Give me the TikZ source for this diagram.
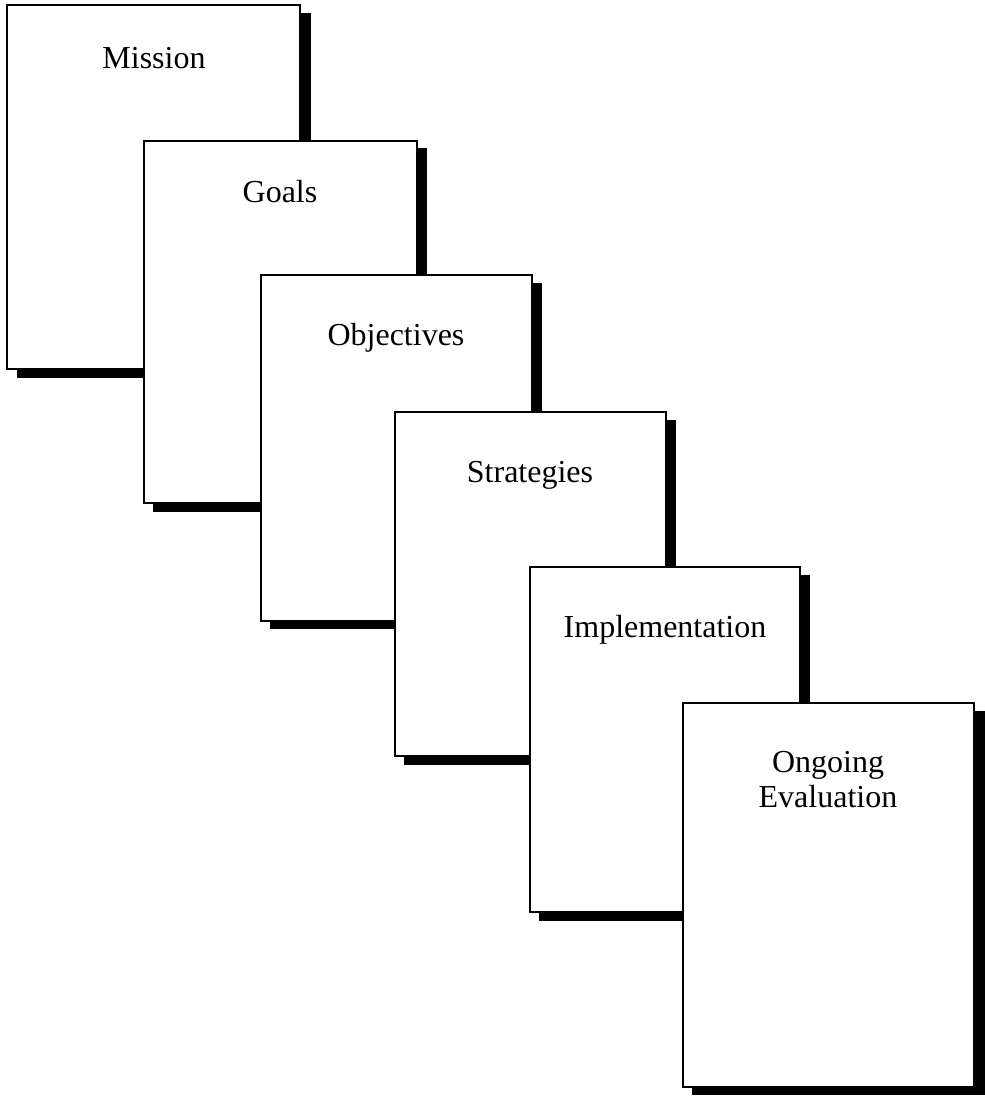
\documentclass[tikz,border=0pt]{standalone}
\usepackage{fontspec}
\setmainfont{Liberation Serif}
\begin{document}
\begin{tikzpicture}[x=1pt,y=-1pt,
  card/.style={draw=black, fill=white, line width=1.2pt, inner sep=0pt, outer sep=0pt},
  shade/.style={fill=black, draw=none},
  lbl/.style={font=\fontsize{32}{35}\selectfont, inner sep=0pt, anchor=base, align=center}]
\useasboundingbox (0,0) rectangle (985,1096);
% Mission
\fill[shade] (17,13) rectangle (311,378);
\draw[card] (7,5) rectangle (300,369);
\node[lbl] (mission) at (154,68) {Mission};
% Goals
\fill[shade] (153,148) rectangle (427,512);
\draw[card] (144,141) rectangle (417,503);
\node[lbl] (goals) at (280,202) {Goals};
% Objectives
\fill[shade] (270,283) rectangle (542,629);
\draw[card] (261,275) rectangle (532,621);
\node[lbl] (objectives) at (396,345) {Objectives};
% Strategies
\fill[shade] (404,420) rectangle (676,765);
\draw[card] (395,412) rectangle (666,756);
\node[lbl] (strategies) at (530,482) {Strategies};
% Implementation
\fill[shade] (539,575) rectangle (810,921);
\draw[card] (530,567) rectangle (800,912);
\node[lbl] (implementation) at (665,637) {Implementation};
% Ongoing Evaluation
\fill[shade] (692,711) rectangle (985,1095);
\draw[card] (683,703) rectangle (974,1087);
\node[lbl] (ongoing) at (828,807) {Ongoing\\Evaluation};
\end{tikzpicture}
\end{document}
